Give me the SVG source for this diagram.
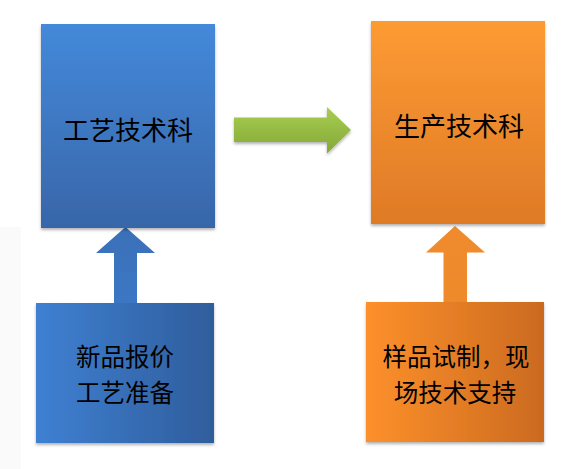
<svg xmlns="http://www.w3.org/2000/svg" width="583" height="469" viewBox="0 0 583 469">
<style>
text{font-family:"Noto Sans CJK SC","Noto Sans",sans-serif;font-size:26px;fill:#000;text-anchor:middle;dominant-baseline:central}
text.two{font-size:24.5px}
</style>
<defs>
<linearGradient id="bv" x1="0" y1="0" x2="0" y2="1"><stop offset="0" stop-color="#4489da"/><stop offset="1" stop-color="#3866a9"/></linearGradient>
<linearGradient id="ov" x1="0" y1="0" x2="0" y2="1"><stop offset="0" stop-color="#fd9b33"/><stop offset="1" stop-color="#df7a27"/></linearGradient>
<linearGradient id="bh" x1="0" y1="0" x2="1" y2="0"><stop offset="0" stop-color="#3f80d2"/><stop offset="1" stop-color="#2f5d9c"/></linearGradient>
<linearGradient id="oh" x1="0" y1="0" x2="1" y2="0"><stop offset="0" stop-color="#fd902b"/><stop offset="1" stop-color="#cb6a1f"/></linearGradient>
<linearGradient id="gv" x1="0" y1="0" x2="0" y2="1"><stop offset="0" stop-color="#a8ce50"/><stop offset="1" stop-color="#84a838"/></linearGradient>
<linearGradient id="bua" x1="0" y1="0" x2="0" y2="1"><stop offset="0" stop-color="#3b70b8"/><stop offset="1" stop-color="#3c77c4"/></linearGradient>
<linearGradient id="oua" x1="0" y1="0" x2="0" y2="1"><stop offset="0" stop-color="#f08a2e"/><stop offset="1" stop-color="#ef8a2b"/></linearGradient>
<filter id="sh" x="-10%" y="-10%" width="120%" height="120%"><feDropShadow dx="0" dy="2" stdDeviation="1.5" flood-color="#000" flood-opacity="0.3"/></filter>
</defs>
<rect x="0" y="227" width="21" height="242" fill="#fafafa"/>
<g id="connectors">
<polygon id="green-arrow" filter="url(#sh)" fill="url(#gv)" points="234,117.5 327,117.5 327,107 351,130 327,153.5 327,142 234,142"/>
<polygon id="blue-up-arrow" fill="url(#bua)" points="114,303 114,253 96,253 125.5,227 155,253 137,253 137,303"/>
<polygon id="orange-up-arrow" fill="url(#oua)" points="443.5,302 443.5,252.5 426,252.5 455,226 485,252.5 467,252.5 467,302"/>
</g>
<g id="node-process">
<rect x="41" y="24" width="174" height="204" fill="url(#bv)" filter="url(#sh)"/>
<text x="128" y="128">工艺技术科</text>
</g>
<g id="node-production">
<rect x="371" y="21" width="174" height="203" fill="url(#ov)" filter="url(#sh)"/>
<text x="459" y="124">生产技术科</text>
</g>
<g id="node-quote">
<rect x="36" y="303" width="178" height="140" fill="url(#bh)" filter="url(#sh)"/>
<text class="two" x="125" y="355">新品报价</text>
<text class="two" x="125" y="391">工艺准备</text>
</g>
<g id="node-sample">
<rect x="366" y="302" width="178" height="140" fill="url(#oh)" filter="url(#sh)"/>
<text class="two" x="456" y="355">样品试制，现</text>
<text class="two" x="455" y="391">场技术支持</text>
</g>
</svg>
